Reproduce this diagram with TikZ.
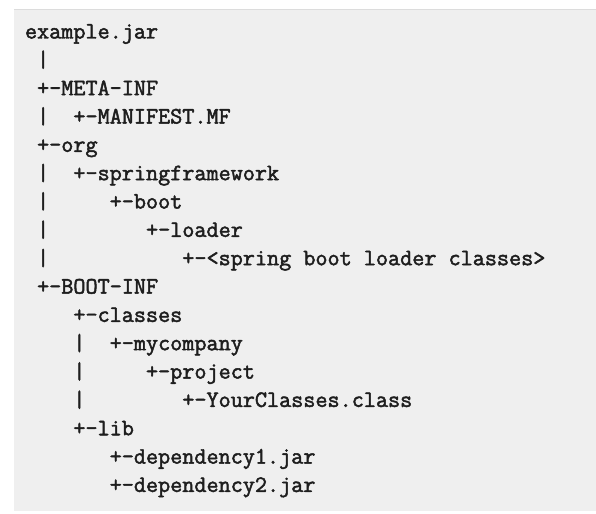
\documentclass[tikz,border=0pt]{standalone}
\usepackage{fontspec}
\setmonofont{Latin Modern Mono}[FakeBold=2]
\definecolor{boxbg}{HTML}{EFEFEF}
\definecolor{boxline}{HTML}{DCDCDC}
\definecolor{codetext}{HTML}{1E1E1E}
\newcommand\mycodefont{\ttfamily\fontsize{23.5bp}{26bp}\selectfont\spaceskip=\fontcharwd\font`x\relax\xspaceskip=\spaceskip}
\begin{document}
\begin{tikzpicture}[x=1bp,y=-1bp,
  codeline/.style={anchor=base west, inner sep=0pt, outer sep=0pt, text=codetext,
    font=\mycodefont}]
\useasboundingbox (0,0) rectangle (596,514);
\fill[white] (0,0) rectangle (596,514);
\fill[boxbg] (14,9) rectangle (596,511);
\draw[boxline, line width=0.8bp] (14,9) -- (596,9);
\def\cw{12.1}
\def\lh{28.34}
\node[codeline] (l1)  at (25+0*\cw, 38.5+0*\lh)  {example.jar};
\node[codeline] (l2)  at (25+1*\cw, 38.5+1*\lh)  {|};
\node[codeline] (l3)  at (25+1*\cw, 38.5+2*\lh)  {+-META-INF};
\node[codeline] (l4)  at (25+1*\cw, 38.5+3*\lh)  {|\ \ +-MANIFEST.MF};
\node[codeline] (l5)  at (25+1*\cw, 38.5+4*\lh)  {+-org};
\node[codeline] (l6)  at (25+1*\cw, 38.5+5*\lh)  {|\ \ +-springframework};
\node[codeline] (l7)  at (25+1*\cw, 38.5+6*\lh)  {|\ \ \ \ \ +-boot};
\node[codeline] (l8)  at (25+1*\cw, 38.5+7*\lh)  {|\ \ \ \ \ \ \ \ +-loader};
\node[codeline] (l9)  at (25+1*\cw, 38.5+8*\lh)  {|\ \ \ \ \ \ \ \ \ \ \ +-<spring boot loader classes>};
\node[codeline] (l10) at (25+1*\cw, 38.5+9*\lh)  {+-BOOT-INF};
\node[codeline] (l11) at (25+4*\cw, 38.5+10*\lh) {+-classes};
\node[codeline] (l12) at (25+4*\cw, 38.5+11*\lh) {|\ \ +-mycompany};
\node[codeline] (l13) at (25+4*\cw, 38.5+12*\lh) {|\ \ \ \ \ +-project};
\node[codeline] (l14) at (25+4*\cw, 38.5+13*\lh) {|\ \ \ \ \ \ \ \ +-YourClasses.class};
\node[codeline] (l15) at (25+4*\cw, 38.5+14*\lh) {+-lib};
\node[codeline] (l16) at (25+7*\cw, 38.5+15*\lh) {+-dependency1.jar};
\node[codeline] (l17) at (25+7*\cw, 38.5+16*\lh) {+-dependency2.jar};
\end{tikzpicture}
\end{document}
